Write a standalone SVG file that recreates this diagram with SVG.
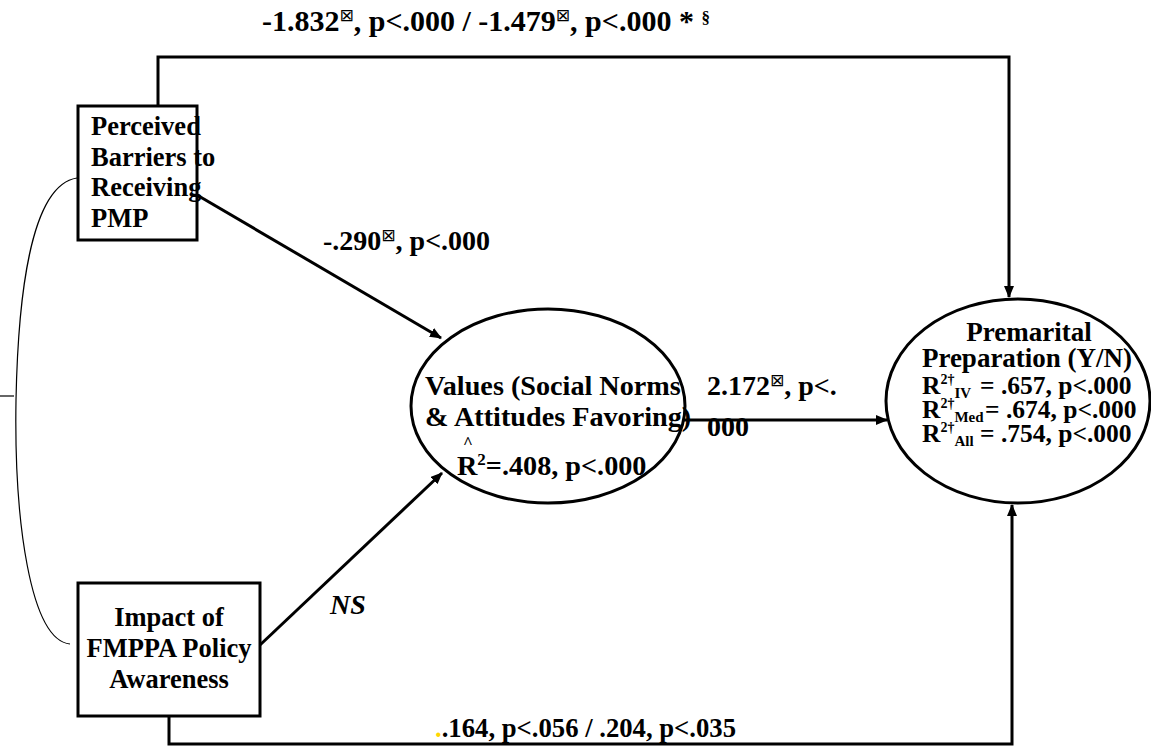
<svg xmlns="http://www.w3.org/2000/svg" width="1151" height="746" viewBox="0 0 1151 746">
<style>
text{font-family:"Liberation Serif","Times New Roman",serif;font-weight:bold;font-size:26.5px;fill:#000}
.box{fill:#fff;stroke:#000;stroke-width:3}
.ell{fill:#fff;stroke:#000;stroke-width:3}
.con{fill:none;stroke:#000;stroke-width:3}
.thin{fill:none;stroke:#000;stroke-width:1.2}
.lab{font-size:28px}
.top{font-size:30px}
.bot{font-size:26.7px}
.v{font-size:28.2px}
.p{font-size:27px}
.r{font-size:25.5px}
.tofu{font-family:"DejaVu Sans",sans-serif;font-weight:normal;font-size:17px}
.sm{font-size:17px}
.sup{font-size:14px}
.sub{font-size:15px}
</style>
<defs>
<marker id="arr" viewBox="0 0 12 10" refX="11" refY="5" markerWidth="12" markerHeight="10" markerUnits="userSpaceOnUse" orient="auto">
<path d="M0,0 L12,5 L0,10 Z" fill="#000"/>
</marker>
</defs>
<g id="connectors">
<path class="con" d="M158,106 V57 H1009 V297" marker-end="url(#arr)"/>
<path class="con" d="M169,716 V744 H1012 V505" marker-end="url(#arr)"/>
<path class="con" d="M197,195 L441,338" marker-end="url(#arr)"/>
<path class="con" d="M260,645 L442,473" marker-end="url(#arr)"/>
<path class="con" d="M684,420 L887,420" marker-end="url(#arr)"/>
<path class="thin" d="M77,178 C30,185 18,300 16,400 C14,520 30,640 70,644"/>
<path class="thin" d="M0,396 H14"/>
</g>
<g id="perceived">
<rect class="box" x="78" y="106" width="119" height="134"/>
<text x="91" y="135">Perceived</text>
<text x="91" y="166">Barriers to</text>
<text x="91" y="196">Receiving</text>
<text x="91" y="227">PMP</text>
</g>
<g id="impact">
<rect class="box" x="78" y="583" width="182" height="133"/>
<text x="169" y="626" text-anchor="middle">Impact of</text>
<text x="169" y="657" text-anchor="middle">FMPPA Policy</text>
<text x="169" y="688" text-anchor="middle">Awareness</text>
</g>
<g id="values">
<ellipse class="ell" cx="548" cy="406" rx="137" ry="97"/>
<text class="v" x="425" y="395">Values (Social Norms</text>
<text class="v" x="425" y="426">&amp; Attitudes Favoring)</text>
<text x="463" y="448" class="sm">^</text>
<text class="v" x="457" y="475">R<tspan class="sm" dy="-10">2</tspan><tspan dy="10">=.408, p&lt;.000</tspan></text>
</g>
<g id="premarital">
<ellipse class="ell" cx="1018" cy="401" rx="132" ry="102"/>
<text class="p" x="1029" y="341" text-anchor="middle">Premarital</text>
<text class="p" x="1027" y="367" text-anchor="middle">Preparation (Y/N)</text>
<text class="r" x="922" y="394">R<tspan class="sup" dy="-10">2†</tspan><tspan class="sub" dy="14">IV</tspan></text>
<text class="r" x="980" y="394">= .657, p&lt;.000</text>
<text class="r" x="922" y="418">R<tspan class="sup" dy="-10">2†</tspan><tspan class="sub" dy="14">Med</tspan></text>
<text class="r" x="985" y="418">= .674, p&lt;.000</text>
<text class="r" x="922" y="442">R<tspan class="sup" dy="-10">2†</tspan><tspan class="sub" dy="14">All</tspan></text>
<text class="r" x="980" y="442">= .754, p&lt;.000</text>
</g>
<g id="labels">
<text class="top" x="262" y="31">-1.832<tspan class="tofu" font-size="18" dy="-10">⊠</tspan><tspan dy="10">, p&lt;.000 / -1.479</tspan><tspan class="tofu" font-size="18" dy="-10">⊠</tspan><tspan dy="10">, p&lt;.000 * </tspan><tspan class="sm" dy="-8">§</tspan></text>
<text class="lab" x="323" y="250">-.290<tspan class="tofu" dy="-9">⊠</tspan><tspan dy="9">, p&lt;.000</tspan></text>
<text class="lab" x="707" y="395">2.172<tspan class="tofu" dy="-9">⊠</tspan><tspan dy="9">, p&lt;.</tspan></text>
<text class="lab" x="707" y="436">000</text>
<text class="lab" x="330" y="614" font-style="italic">NS</text>
<text class="bot" x="435" y="737"><tspan fill="#ffd700">.</tspan>.164, p&lt;.056 / .204, p&lt;.035</text>
</g>
</svg>
